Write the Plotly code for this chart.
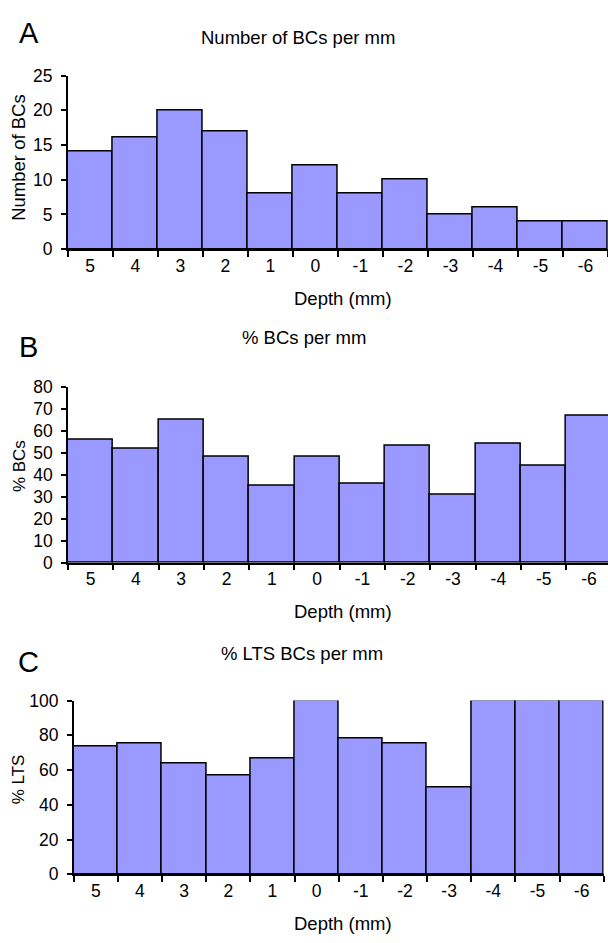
import plotly.graph_objects as go

depth_labels = ["5", "4", "3", "2", "1", "0", "-1", "-2", "-3", "-4", "-5", "-6"]
num_bcs = [14, 16, 20, 17, 8, 12, 8, 10, 5, 6, 4, 4]
pct_bcs = [56, 52, 65, 48, 35, 48, 36, 53, 31, 54, 44, 67]
pct_lts = [73.3, 75, 64, 57, 66.7, 100, 78, 75, 50, 100, 100, 100]

titles = ["Number of BCs per mm", "% BCs per mm", "% LTS BCs per mm"]
ytitles = ["Number of BCs", "% BCs", "% LTS"]
letters = ["A", "B", "C"]
xtitle = "Depth (mm)"

W, H = 608, 943
FONT = "Liberation Sans, Arial, Helvetica, sans-serif"
BAR = "#9999FF"

def px(x):
    return x / W

def py(y):
    return 1 - y / H

fig = go.Figure()

panels = [
    dict(data=num_bcs, x0=67.7, x1=608, xr=[-0.5, 11.5], yt=67, yb=244.3,
         yrange=[0, 25], dtick=5, title_y=28, letter_y=23.5, ytitle_x=19, ytitle_y=151,
         ytfs=18.5, xtitle_y=295),
    dict(data=pct_bcs, x0=67.9, x1=608, xr=[-0.5, 11.42], yt=385, yb=564.7,
         yrange=[0, 80], dtick=10, title_y=335, letter_y=344, ytitle_x=19, ytitle_y=466,
         ytfs=17, xtitle_y=615),
    dict(data=pct_lts, x0=73.7, x1=603.7, xr=[-0.5, 11.5], yt=705.5, yb=883,
         yrange=[0, 100], dtick=20, title_y=657, letter_y=666, ytitle_x=18, ytitle_y=786,
         ytfs=17, xtitle_y=933),
]
title_x = [297.6, 304, 301.5]

annotations = []
for i, p in enumerate(panels):
    n = "" if i == 0 else str(i + 1)
    fig.add_trace(go.Bar(
        x=depth_labels, y=p["data"], xaxis="x" + n, yaxis="y" + n,
        marker=dict(color=BAR, line=dict(color="black", width=1.5)),
        showlegend=False, hoverinfo="x+y",
    ))
    fig.update_layout(**{
        "xaxis" + n: dict(
            domain=[px(p["x0"]), px(p["x1"])], anchor="y" + n, type="category",
            range=p["xr"], showline=True, linecolor="black", linewidth=1.5,
            ticks="outside", ticklen=6, tickwidth=1.5, tickcolor="black",
            tickson="boundaries", showgrid=False, zeroline=False,
            tickfont=dict(family=FONT, size=17.5, color="black"),
            fixedrange=True,
        ),
        "yaxis" + n: dict(
            domain=[py(p["yb"]), py(p["yt"])], anchor="x" + n,
            range=p["yrange"], dtick=p["dtick"], tick0=0,
            showline=True, linecolor="black", linewidth=1.5,
            ticks="outside", ticklen=5, tickwidth=1.5, tickcolor="black",
            showgrid=False, zeroline=False, ticklabelstandoff=5,
            tickfont=dict(family=FONT, size=17.5, color="black"),
            fixedrange=True,
        ),
    })
    annotations.append(dict(text=titles[i], x=px(title_x[i]), y=py(p["title_y"]),
                            xref="paper", yref="paper", showarrow=False,
                            xanchor="center", yanchor="middle",
                            font=dict(family=FONT, size=18.5, color="black")))
    annotations.append(dict(text=letters[i], x=px(28.7), y=py(p["letter_y"]),
                            xref="paper", yref="paper", showarrow=False,
                            xanchor="center", yanchor="middle",
                            font=dict(family=FONT, size=29, color="black")))
    annotations.append(dict(text=ytitles[i], x=px(p["ytitle_x"]), y=py(p["ytitle_y"]),
                            xref="paper", yref="paper", showarrow=False, textangle=-90,
                            xanchor="center", yanchor="middle",
                            font=dict(family=FONT, size=p["ytfs"], color="black")))
    annotations.append(dict(text=xtitle, x=px(343), y=py(p["xtitle_y"]),
                            xref="paper", yref="paper", showarrow=False,
                            xanchor="center", yanchor="middle",
                            font=dict(family=FONT, size=18.5, color="black")))

fig.update_layout(
    width=W, height=H, autosize=False,
    margin=dict(l=0, r=0, t=0, b=0),
    paper_bgcolor="white", plot_bgcolor="white",
    bargap=0, annotations=annotations,
)

fig.write_html(
    "out.html",
    config={"displayModeBar": False, "responsive": False},
    post_script="document.body.style.margin='0';document.body.style.padding='0';document.body.style.overflow='hidden';",
)
